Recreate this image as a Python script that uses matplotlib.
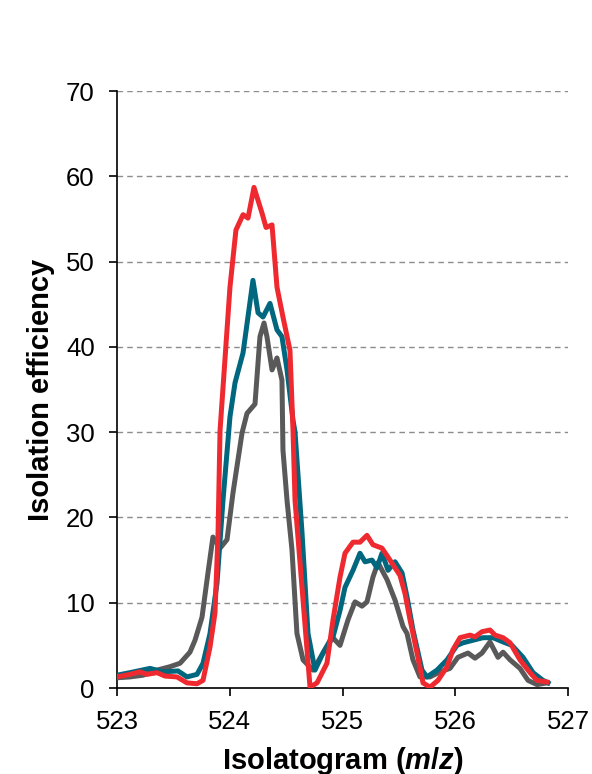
import matplotlib.pyplot as plt
import numpy as np

plt.rcParams['font.family'] = ['Liberation Sans', 'DejaVu Sans']
plt.rcParams['mathtext.fontset'] = 'custom'
plt.rcParams['mathtext.it'] = 'Liberation Sans:italic:bold'
plt.rcParams['mathtext.rm'] = 'Liberation Sans:bold'

# isolation efficiency readings (m/z, %)
red_mz = [523.00, 523.115, 523.204, 523.266, 523.355, 523.426, 523.532, 523.621, 523.710,
          523.763, 523.825, 523.869, 523.896, 523.914, 524.002, 524.055, 524.118, 524.162,
          524.215, 524.286, 524.322, 524.375, 524.419, 524.472, 524.534, 524.561, 524.579,
          524.650, 524.712, 524.774, 524.862, 524.916, 524.978, 525.022, 525.093, 525.155,
          525.217, 525.270, 525.350, 525.421, 525.510, 525.554, 525.599, 525.661, 525.714,
          525.776, 525.847, 525.927, 525.980, 526.042, 526.131, 526.175, 526.237, 526.308,
          526.353, 526.424, 526.486, 526.574, 526.663, 526.725, 526.814]
red_eff = [1.3, 1.6, 1.9, 1.6, 1.8, 1.4, 1.3, 0.6, 0.5, 0.9, 4.8, 8.8, 18.0, 30.2, 47.0,
           53.7, 55.5, 55.1, 58.7, 55.7, 54.0, 54.3, 47.0, 43.5, 39.6, 30.2, 22.0, 10.3,
           0.1, 0.6, 2.9, 8.0, 13.0, 15.8, 17.1, 17.1, 17.9, 16.8, 16.4, 15.0, 13.2, 11.1,
           8.0, 4.1, 0.6, 0.1, 0.9, 2.5, 4.5, 5.9, 6.2, 6.0, 6.6, 6.8, 6.2, 5.9, 5.3, 3.3,
           1.8, 0.9, 0.7]

teal_mz = [523.00, 523.115, 523.293, 523.408, 523.541, 523.621, 523.710, 523.763, 523.825,
           523.887, 523.940, 524.002, 524.047, 524.118, 524.206, 524.251, 524.295, 524.357,
           524.419, 524.463, 524.508, 524.561, 524.579, 524.641, 524.694, 524.756, 524.827,
           524.916, 524.978, 525.022, 525.093, 525.155, 525.200, 525.262, 525.306, 525.350,
           525.404, 525.466, 525.528, 525.572, 525.625, 525.705, 525.749, 525.838, 525.927,
           526.015, 526.069, 526.157, 526.246, 526.335, 526.424, 526.503, 526.601, 526.690,
           526.778, 526.823]
teal_eff = [1.5, 1.8, 2.3, 1.9, 2.0, 1.3, 1.6, 2.9, 6.4, 12.3, 22.0, 31.8, 35.8, 39.3, 47.8,
            44.0, 43.5, 45.1, 42.0, 41.2, 37.3, 31.4, 30.0, 18.2, 6.4, 2.1, 4.1, 6.0, 9.1,
            11.8, 13.8, 15.8, 14.8, 15.0, 14.1, 15.8, 13.8, 14.8, 13.5, 10.7, 6.8, 2.1, 1.3,
            2.1, 3.3, 5.0, 5.3, 5.6, 5.9, 5.9, 5.4, 5.0, 3.6, 1.8, 0.9, 0.6]

gray_mz = [523.00, 523.115, 523.231, 523.355, 523.470, 523.559, 523.647, 523.692, 523.754,
           523.807, 523.851, 523.914, 523.976, 524.029, 524.109, 524.153, 524.224, 524.268,
           524.304, 524.330, 524.375, 524.419, 524.463, 524.472, 524.508, 524.552, 524.596,
           524.650, 524.738, 524.827, 524.907, 524.978, 525.049, 525.111, 525.173, 525.217,
           525.270, 525.315, 525.395, 525.466, 525.537, 525.572, 525.625, 525.687, 525.776,
           525.865, 525.953, 526.024, 526.113, 526.175, 526.237, 526.308, 526.379, 526.424,
           526.486, 526.574, 526.645, 526.725, 526.814]
gray_eff = [1.2, 1.3, 1.5, 2.1, 2.5, 2.9, 4.2, 5.6, 8.3, 13.5, 17.7, 16.4, 17.4, 22.9, 29.9,
            32.2, 33.3, 41.2, 42.8, 41.2, 37.3, 38.7, 36.1, 27.9, 22.0, 16.2, 6.4, 3.3, 2.1,
            4.1, 6.0, 5.0, 8.0, 10.1, 9.6, 10.1, 13.0, 14.7, 12.7, 10.3, 7.2, 6.4, 3.3, 1.3,
            1.3, 1.9, 2.3, 3.6, 4.1, 3.5, 4.1, 5.4, 3.6, 4.2, 3.3, 2.3, 0.9, 0.4, 0.6]

fig = plt.figure(figsize=(5.92, 7.74), dpi=100)
ax = fig.add_axes([0.1976, 0.1111, 0.7619, 0.7713])

ax.plot(gray_mz, gray_eff, color='#595959', lw=3.6, solid_joinstyle='round', zorder=3)
ax.plot(teal_mz, teal_eff, color='#00677F', lw=3.6, solid_joinstyle='round', zorder=4)
ax.plot(red_mz, red_eff, color='#EE2A30', lw=3.6, solid_joinstyle='round', zorder=5)

ax.set_xlim(523, 527)
ax.set_ylim(0, 70)
ax.set_xticks([523, 524, 525, 526, 527])
ax.set_yticks(np.arange(0, 71, 10))

# dashed horizontal gridlines (not at zero)
for yv in range(10, 71, 10):
    ax.axhline(yv, color='#8c8c8c', lw=1, ls=(0, (4, 3)), zorder=1)

for s in ['top', 'right']:
    ax.spines[s].set_visible(False)
ax.spines['left'].set_linewidth(1.2)
ax.spines['bottom'].set_linewidth(1.2)
ax.tick_params(axis='both', direction='out', length=6, width=1.2, labelsize=18.5)
ax.tick_params(axis='x', pad=10)
ax.tick_params(axis='y', pad=10)

ax.set_xlabel(r'Isolatogram ($\mathit{m/z}$)', fontsize=21, fontweight='bold', labelpad=8)
ax.set_ylabel('Isolation efficiency', fontsize=21, fontweight='bold', labelpad=8)

plt.savefig('out.png', dpi=100)
